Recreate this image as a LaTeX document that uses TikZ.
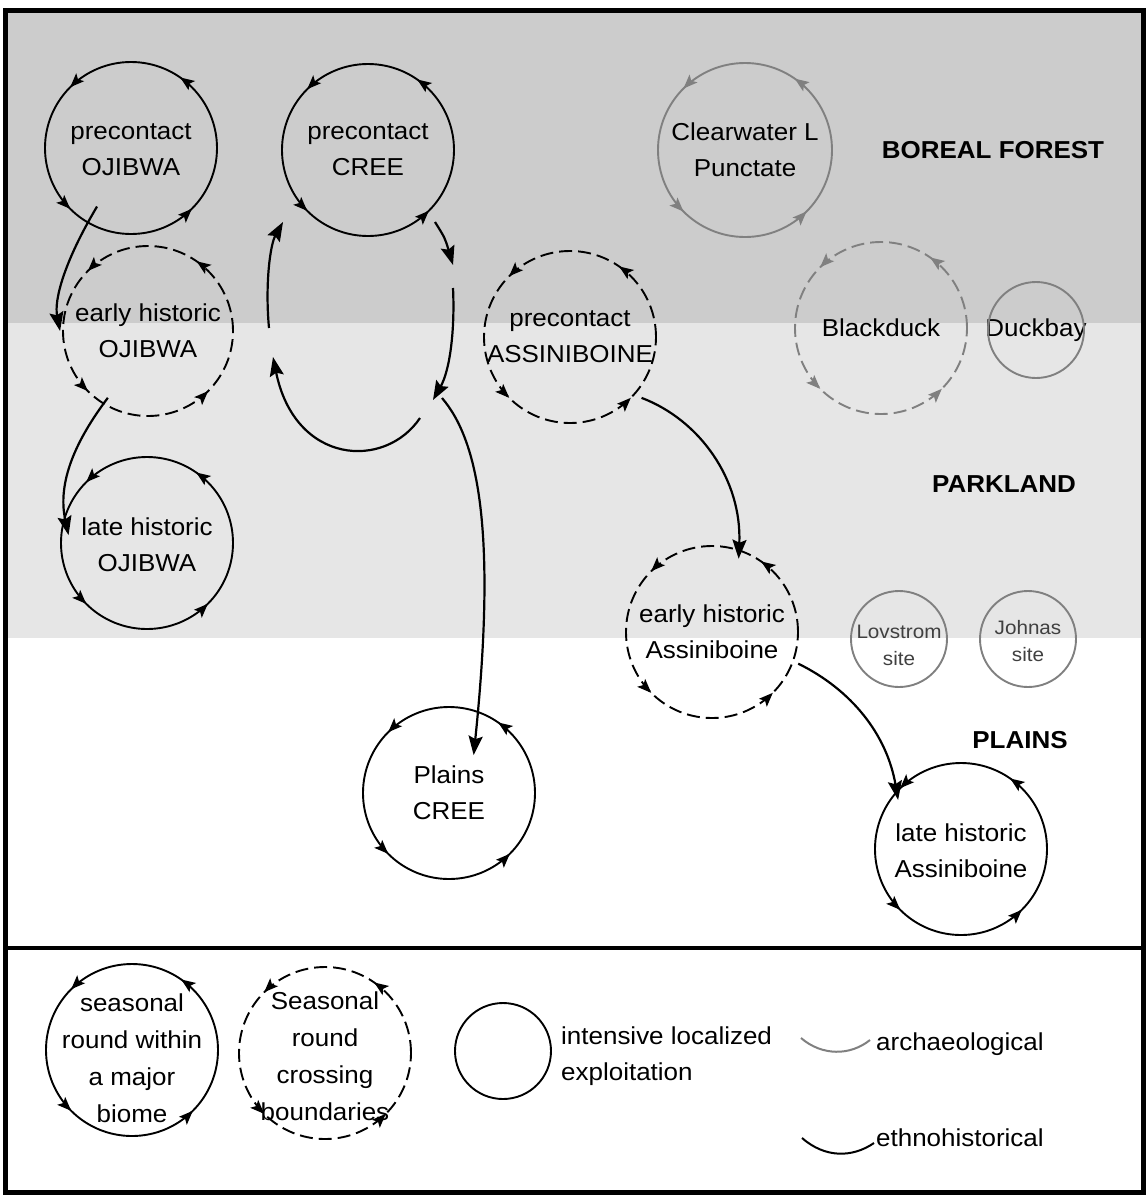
\documentclass[tikz,border=0pt]{standalone}
\usepackage{fontspec}
\setmainfont{Liberation Sans}[FakeStretch=1.06]
\usetikzlibrary{arrows.meta,decorations.markings}
\definecolor{bandA}{HTML}{CCCCCC}
\definecolor{bandB}{HTML}{E6E6E6}
\definecolor{arch}{HTML}{808080}
\tikzset{
  ctip/.tip={Stealth[length=14pt,width=11pt,inset=3pt]},
  lbl/.style={circle, inner sep=0pt, align=center, font=\fontsize{24.5}{36}\selectfont},
  leglbl/.style={circle, inner sep=0pt, align=center, font=\fontsize{24.5}{37}\selectfont},
  smalllbl/.style={circle, inner sep=0pt, align=center, text=black!75, font=\fontsize{19.5}{27}\selectfont},
  biome/.style={font=\fontsize{24.5}{30}\selectfont\bfseries},
  plaintext/.style={inner sep=0pt, font=\fontsize{24.5}{36}\selectfont},
  ring/.style={line width=1.9pt},
  dashring/.style={ring, dash pattern=on 13pt off 6pt},
  cyclearrows/.style={postaction={decorate}, decoration={markings,
     mark=at position 0.153 with {\arrow{ctip}},
     mark=at position 0.375 with {\arrow{ctip}},
     mark=at position 0.625 with {\arrow{ctip}},
     mark=at position 0.875 with {\arrow{ctip}}}},
  conn/.style={line width=2.2pt, -{Stealth[length=19pt,width=14pt,inset=3pt]}},
}
\begin{document}
\begin{tikzpicture}[x=1pt,y=1pt]
\useasboundingbox (0,0) rectangle (1147,-1195);
% biome bands
\fill[bandA] (8,-13) rectangle (1141,-323);
\fill[bandB] (8,-323) rectangle (1141,-638);

% nodes
\node[lbl] (ojA) at (131,-150) {precontact\\OJIBWA};
\node[lbl] (ojB) at (148,-331) {early historic\\OJIBWA};
\node[lbl] (ojC) at (147,-545) {late historic\\OJIBWA};
\node[lbl] (crA) at (368,-150) {precontact\\CREE};
\node[lbl] (crP) at (449,-793) {Plains\\CREE};
\node[lbl] (asA) at (570,-337) {precontact\\ASSINIBOINE};
\node[lbl] (asB) at (712,-632) {early historic\\Assiniboine};
\node[lbl] (asC) at (961,-851) {late historic\\Assiniboine};
\node[lbl] (clw) at (745,-150) {Clearwater L\\Punctate};
\node[lbl] (bld) at (881,-328) {Blackduck};
\node[lbl] (dkb) at (1036,-330) {Duckbay};
\node[smalllbl] (lov) at (899,-645) {Lovstrom\\site};
\node[smalllbl] (joh) at (1028,-641) {Johnas\\site};

% rings
\draw[ring, cyclearrows] ([xshift=86pt]131,-148) arc[start angle=0, end angle=360, radius=86];
\draw[dashring, cyclearrows] ([xshift=85pt]ojB.center) arc[start angle=0, end angle=360, radius=85];
\draw[ring, cyclearrows] ([xshift=86pt]147,-543) arc[start angle=0, end angle=360, radius=86];
\draw[ring, cyclearrows] ([xshift=86pt]crA.center) arc[start angle=0, end angle=360, radius=86];
\draw[ring, cyclearrows] ([xshift=86pt]crP.center) arc[start angle=0, end angle=360, radius=86];
\draw[dashring, cyclearrows] ([xshift=86pt]asA.center) arc[start angle=0, end angle=360, radius=86];
\draw[dashring, cyclearrows] ([xshift=86pt]asB.center) arc[start angle=0, end angle=360, radius=86];
\draw[ring, cyclearrows] ([xshift=86pt]961,-849) arc[start angle=0, end angle=360, radius=86];
\draw[ring, arch, cyclearrows] ([xshift=87pt]clw.center) arc[start angle=0, end angle=360, radius=87];
\draw[dashring, arch, cyclearrows] ([xshift=86pt]bld.center) arc[start angle=0, end angle=360, radius=86];
\draw[ring, arch] (dkb.center) circle[radius=48];
\draw[ring, arch] (899,-639) circle[radius=48];
\draw[ring, arch] (1028,-639) circle[radius=48];

% biome labels
\node[biome] (tBoreal) at (993,-150) {BOREAL FOREST};
\node[biome] (tPark) at (1004,-484) {PARKLAND};
\node[biome] (tPlains) at (1020,-740) {PLAINS};

% Ojibwa connectors
\draw[conn] (ojA.239) .. controls (64,-262) and (54,-300) .. ([xshift=-10pt]ojB.west);
\draw[conn] (ojB.239) .. controls (76,-440) and (57,-482) .. ([xshift=-8pt]ojC.172);

% Cree seasonal cycle
\coordinate (cyA0) at (269,-328);
\coordinate (cyA1) at (283,-222);
\coordinate (cyB0) at (435,-222);
\coordinate (cyB1) at (453,-265);
\coordinate (cyC0) at (453,-288);
\coordinate (cyC1) at (433,-400);
\coordinate (cyD0) at (420,-418);
\coordinate (cyD1) at (273,-357);
\coordinate (cyP0) at (442,-398);
\draw[conn] (cyA0) .. controls (265,-285) and (270,-245) .. (cyA1);
\draw[conn] (cyB0) .. controls (445,-238) .. (cyB1);
\draw[conn] (cyC0) .. controls (455,-330) and (450,-370) .. (cyC1);
\draw[conn] (cyD0) .. controls (385,-470) and (295,-465) .. (cyD1);
\draw[conn] (cyP0) .. controls (478,-440) and (497,-530) .. (crP.57);

% Assiniboine connectors
\draw[conn] ([shift={(5pt,-5pt)}]asA.320) .. controls (700,-420) and (742,-480) .. (asB.70);
\draw[conn] ([shift={(13pt,-5pt)}]asB.340) .. controls (852,-690) and (887,-735) .. ([shift={(-8pt,5pt)}]asC.140);

% frame
\draw[line width=5pt] (5.5,-10) rectangle (1143.5,-1192.5);
\draw[line width=4pt] (5.5,-947.5) -- (1143.5,-947.5);

% legend
\node[leglbl] (leg1) at (132,-1058) {seasonal\\round within\\a major\\biome};
\node[leglbl] (leg2) at (325,-1056) {Seasonal\\round\\crossing\\boundaries};
\node[lbl, minimum size=96pt] (leg3) at (503,-1051) {};
\draw[ring, cyclearrows] ([xshift=86pt]132,-1050) arc[start angle=0, end angle=360, radius=86];
\draw[dashring, cyclearrows] ([xshift=86pt]325,-1053) arc[start angle=0, end angle=360, radius=86];
\draw[ring] (leg3.center) circle[radius=48];
\node[plaintext, anchor=west, align=left] (leg3t) at (561,-1056) {intensive localized\\exploitation};

\coordinate (arA) at (801,-1038);
\coordinate (arB) at (870,-1040);
\draw[line width=2pt, arch] (arA) .. controls (822,-1056) and (850,-1056) .. (arB);
\node[plaintext, anchor=west] (arT) at (876,-1044) {archaeological};
\coordinate (ehA) at (802,-1138);
\coordinate (ehB) at (874,-1143);
\draw[line width=2pt] (ehA) .. controls (825,-1158) and (852,-1158) .. (ehB);
\node[plaintext, anchor=west] (ehT) at (876,-1138) {ethnohistorical};
\end{tikzpicture}
\end{document}
